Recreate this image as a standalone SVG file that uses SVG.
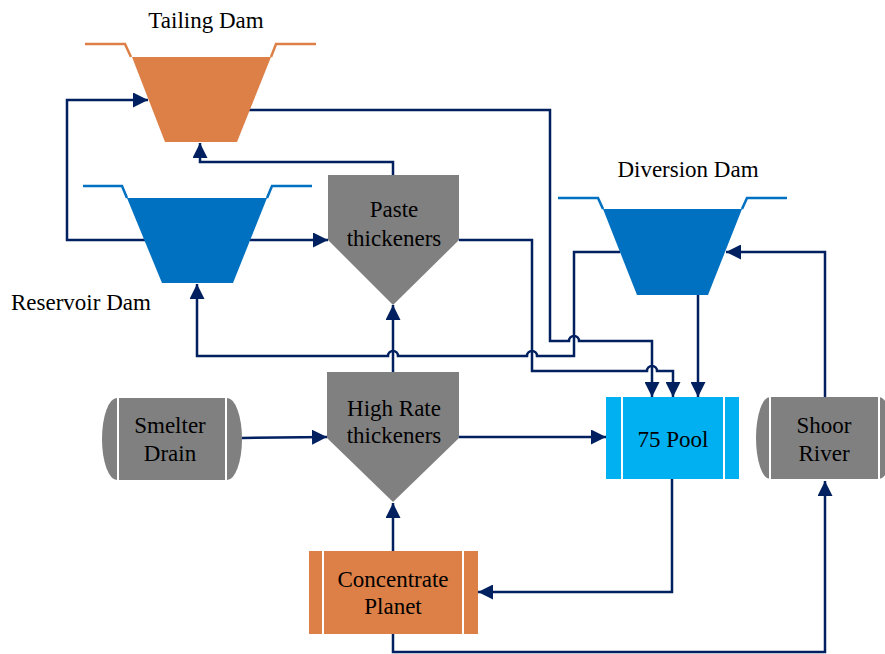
<svg xmlns="http://www.w3.org/2000/svg" width="885" height="654" viewBox="0 0 885 654">
<defs>
<marker id="ah" markerUnits="userSpaceOnUse" markerWidth="15" markerHeight="15" refX="15" refY="7.5" orient="auto">
<path d="M0,0 L15,7.5 L0,15 Z" fill="#002060"/>
</marker>
</defs>
<style>
.t{font-family:"Liberation Serif","Times New Roman",serif;font-size:23px;fill:#000;text-anchor:middle}
.lbl{font-family:"Liberation Serif","Times New Roman",serif;font-size:23px;fill:#000}
.c{fill:none;stroke:#002060;stroke-width:2.5}
.ca{fill:none;stroke:#002060;stroke-width:2.5;marker-end:url(#ah)}
.orng{fill:#DD8047}
.blue{fill:#0070C0}
.gray{fill:#808080}
.rimO{fill:none;stroke:#DD8047;stroke-width:2.5}
.rimB{fill:none;stroke:#0070C0;stroke-width:2.5}
.sep{stroke:#fff;stroke-width:2}
</style>
<rect width="885" height="654" fill="#fff"/>

<g id="connectors">
<path class="ca" d="M147,240 H67 V100 H148"/>
<path class="ca" d="M249,110 H550 V341 H569 a5,5 0 0 1 10,0 H652 V397"/>
<path class="ca" d="M459,240 H532 V371 H647 a5,5 0 0 1 10,0 H673 V397"/>
<path class="ca" d="M250,240 H328"/>
<path class="ca" d="M393,175 V162 H200 V143"/>
<path class="ca" d="M620,252 H574 V356 H537 a5,5 0 0 0 -10,0 H398 a5,5 0 0 0 -10,0 H197 V284"/>
<path class="ca" d="M825,397 V252 H726"/>
<path class="ca" d="M698,295 V397"/>
<path class="ca" d="M242,438 L327,437"/>
<path class="ca" d="M459,437 H606"/>
<path class="ca" d="M393,372 V305"/>
<path class="ca" d="M393,551 V503"/>
<path class="ca" d="M672,479 V592 H478"/>
<path class="ca" d="M393,634 V652 H825 V481"/>
</g>

<g id="tailing-dam">
<polygon class="orng" points="132,57 271,57 237,142 165,142"/>
<polyline class="rimO" points="85,44 125,44 131,57"/>
<polyline class="rimO" points="271,57 276,44 316,44"/>
<text class="t" x="206" y="28">Tailing Dam</text>
</g>

<g id="reservoir-dam">
<polygon class="blue" points="127,198 267,198 233,283 162,283"/>
<polyline class="rimB" points="83,186 122,186 127,198"/>
<polyline class="rimB" points="267,198 272,186 312,186"/>
<text class="lbl" x="11" y="310">Reservoir Dam</text>
</g>

<g id="diversion-dam">
<polygon class="blue" points="603,209 742,209 708,295 637,295"/>
<polyline class="rimB" points="558,198 598,198 603,209"/>
<polyline class="rimB" points="742,209 747,198 787,198"/>
<text class="t" x="688" y="177">Diversion Dam</text>
</g>

<g id="paste-thickeners">
<polygon class="gray" points="328,175 459,175 459,240 393,305 328,240"/>
<text class="t" x="394" y="217">Paste</text>
<text class="t" x="394" y="246">thickeners</text>
</g>

<g id="high-rate-thickeners">
<polygon class="gray" points="327,372 459,372 459,438 393,502 327,438"/>
<text class="t" x="394" y="416">High Rate</text>
<text class="t" x="394" y="443">thickeners</text>
</g>

<g id="smelter-drain">
<path class="gray" d="M117,398 H227 A15,41 0 0 1 227,480 H117 A15,41 0 0 1 117,398 Z"/>
<line class="sep" x1="118" y1="398" x2="118" y2="480"/>
<line class="sep" x1="226" y1="398" x2="226" y2="480"/>
<text class="t" x="170" y="433">Smelter</text>
<text class="t" x="170" y="461">Drain</text>
</g>

<g id="pool-75">
<rect x="606" y="397" width="133" height="82" fill="#00B0F0"/>
<line class="sep" x1="622" y1="397" x2="622" y2="479"/>
<line class="sep" x1="724" y1="397" x2="724" y2="479"/>
<text class="t" x="673" y="447">75 Pool</text>
</g>

<g id="shoor-river">
<path class="gray" d="M770,397 H879 A14,41 0 0 1 879,479 H770 A14,41 0 0 1 770,397 Z"/>
<line class="sep" x1="770" y1="397" x2="770" y2="479"/>
<line class="sep" x1="879" y1="397" x2="879" y2="479"/>
<text class="t" x="824" y="433">Shoor</text>
<text class="t" x="824" y="461">River</text>
</g>

<g id="concentrate-planet">
<rect x="309" y="551" width="169" height="83" fill="#DD8047"/>
<line class="sep" x1="323" y1="551" x2="323" y2="634"/>
<line class="sep" x1="463" y1="551" x2="463" y2="634"/>
<text class="t" x="393" y="587">Concentrate</text>
<text class="t" x="393" y="614">Planet</text>
</g>
</svg>
